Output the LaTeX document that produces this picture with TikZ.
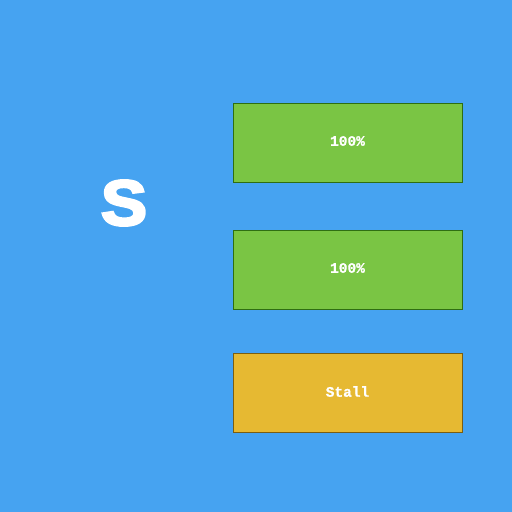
\documentclass[tikz,border=0pt]{standalone}
\usepackage{fontspec}
\setmainfont{Liberation Sans}
\newfontfamily\monofont{Liberation Mono Bold}[FakeBold=1]
\newfontfamily\bigfont{Liberation Sans Bold}[FakeBold=4]
\definecolor{bg}{HTML}{46A3F1}
\definecolor{gfill}{HTML}{7AC544}
\definecolor{gline}{HTML}{2F6E12}
\definecolor{yfill}{HTML}{E6B932}
\definecolor{yline}{HTML}{7A5E12}
\begin{document}
\begin{tikzpicture}[x=1pt,y=-1pt,
  box/.style={minimum width=229pt,minimum height=79pt,inner sep=0pt,line width=0.8pt},
  lbl/.style={font=\monofont\fontsize{14.5}{16}\selectfont,text=white,inner sep=0pt}]
\fill[bg] (0,0) rectangle (512,512);
\useasboundingbox (0,0) rectangle (512,512);
\node[font=\bigfont\fontsize{64}{64}\selectfont,text=white,inner sep=0pt,xscale=1.08] (s) at (124,203) {S};
\node[box,draw=gline,fill=gfill] (a) at (347.5,142.5) {};
\node[lbl] (at) at ([yshift=1.5pt]a.center) {100\%};
\node[box,draw=gline,fill=gfill] (b) at (347.5,269.5) {};
\node[lbl] (bt) at ([yshift=1.5pt]b.center) {100\%};
\node[box,draw=yline,fill=yfill] (c) at (347.5,392.5) {};
\node[lbl] (ct) at ([yshift=1pt]c.center) {Stall};
\end{tikzpicture}
\end{document}
